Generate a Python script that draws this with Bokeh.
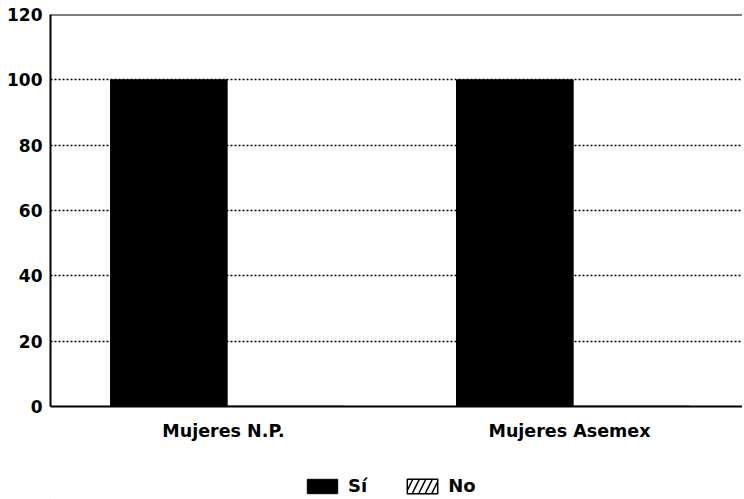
from bokeh.plotting import figure
from bokeh.layouts import column
from bokeh.models import FactorRange, Range1d, Legend, LegendItem, Span, FixedTicker
from bokeh.transform import dodge
from bokeh.embed import file_html
from bokeh.resources import INLINE

categories = ["Mujeres N.P.", "Mujeres Asemex"]
si = [100, 100]
no = [0, 0]
y_ticks = [0, 20, 40, 60, 80, 100, 120]
series_labels = ["Sí", "No"]

SI_STYLE = dict(fill_color="black", line_color="black")
NO_STYLE = dict(fill_color="white", line_color="black", line_width=1.5,
                hatch_pattern="/", hatch_color="black", hatch_scale=13, hatch_weight=1.5)

p = figure(x_range=FactorRange(*categories, range_padding=0), y_range=Range1d(0, 120),
           width=742, height=460, output_backend="svg", toolbar_location=None,
           min_border_left=50, min_border_right=0, min_border_top=14, min_border_bottom=54)
p.outline_line_color = None
p.background_fill_color = "white"

data = dict(cat=categories, si=si, no=no)
p.vbar(x=dodge("cat", -0.158, range=p.x_range), top="si", width=0.337, source=data, **SI_STYLE)
p.vbar(x=dodge("cat", 0.179, range=p.x_range), top="no", width=0.337, source=data, **NO_STYLE)

p.add_layout(Span(location=120, dimension="width", line_color="black", line_width=2))

p.xgrid.grid_line_color = None
p.ygrid.grid_line_color = "black"
p.ygrid.grid_line_dash = "2 2"
p.ygrid.grid_line_width = 1.5
p.yaxis.ticker = FixedTicker(ticks=y_ticks)

for ax in (p.xaxis, p.yaxis):
    ax.axis_line_color = "black"
    ax.axis_line_width = 2
    ax.major_tick_line_color = None
    ax.major_tick_out = 0
    ax.major_tick_in = 0
    ax.minor_tick_line_color = None
    ax.major_label_text_font = "DejaVu Sans"
    ax.major_label_text_font_style = "bold"
    ax.major_label_text_color = "black"
p.yaxis.major_label_text_font_size = "17px"
p.yaxis.major_label_standoff = 8
p.xaxis.major_label_text_font_size = "17.5px"
p.xaxis.major_label_standoff = 14

# legend strip (its renderers sit outside the visible range; only their legend swatches show)
lg = figure(width=742, height=39, x_range=Range1d(0, 1), y_range=Range1d(0, 1),
            x_axis_type=None, y_axis_type=None, output_backend="svg", toolbar_location=None,
            min_border=0)
lg.outline_line_color = None
r_si = lg.vbar(x=[-5], top=[-5], bottom=[-6], width=0.1, **SI_STYLE)
r_no = lg.vbar(x=[-5], top=[-5], bottom=[-6], width=0.1, **NO_STYLE)
legend = Legend(items=[LegendItem(label=series_labels[0], renderers=[r_si]),
                       LegendItem(label=series_labels[1], renderers=[r_no])],
                orientation="horizontal", location=(253, 3),
                glyph_width=38, glyph_height=18, label_standoff=7, spacing=36,
                label_text_font="DejaVu Sans", label_text_font_style="bold",
                label_text_color="black", label_height=18, label_width=10,
                label_text_font_size="18px", border_line_color=None,
                background_fill_alpha=0, margin=0, padding=0)
lg.add_layout(legend, "center")

layout = column(p, lg, spacing=0)
open("out.html", "w").write(file_html(layout, INLINE))
